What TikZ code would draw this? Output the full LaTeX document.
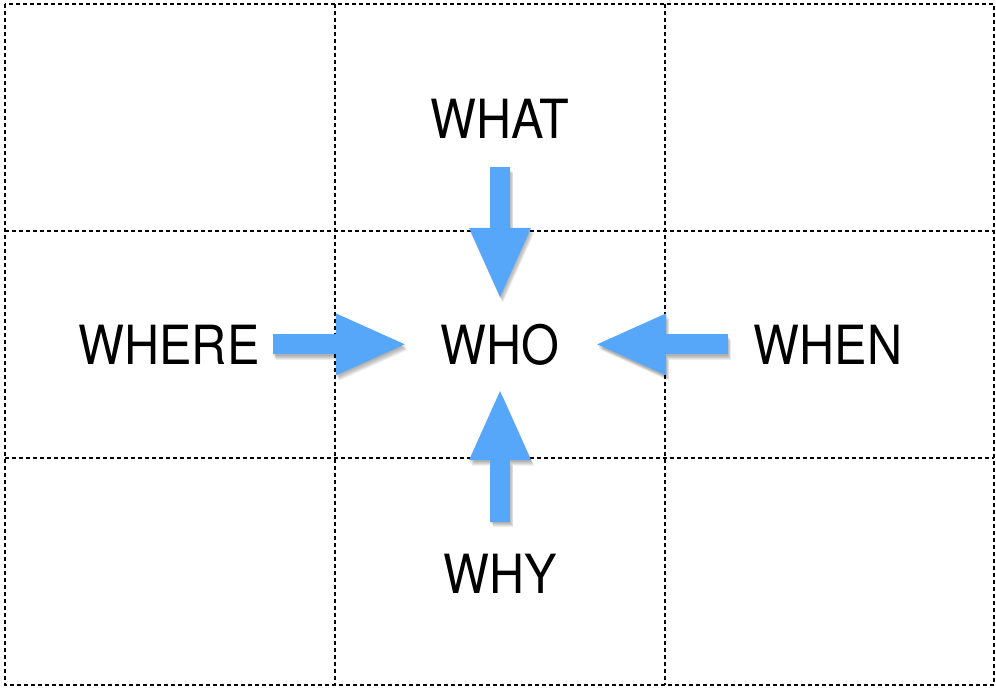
\documentclass[tikz,border=0pt]{standalone}
\usepackage{fontspec}
\setmainfont{TeX Gyre Heros}
\usetikzlibrary{arrows.meta,positioning}
\definecolor{arrowblue}{RGB}{86,167,250}
\definecolor{gridline}{RGB}{0,0,0}
\newcommand{\wordfont}{\fontsize{54}{60}\selectfont}
\newcommand{\capword}[1]{\scalebox{0.9}[1]{#1}}
\tikzset{
  grid/.style={draw=gridline, line width=1.2pt, dash pattern=on 4pt off 3pt},
  word/.style={font=\wordfont, inner sep=0pt, anchor=base},
  bigarrow/.style={draw=arrowblue, line width=20pt,
    -{Triangle[length=69pt, width=62pt, line width=0pt]}},
  arrowshadow/.style={bigarrow, draw=black, opacity=0.07}
}
\begin{document}
\begin{tikzpicture}[x=1pt, y=-1pt]
  \useasboundingbox (0,0) rectangle (996,688);
  % dashed grid
  \draw[grid] (5,4) rectangle (994,685);
  \draw[grid] (335,4) -- (335,685);
  \draw[grid] (665,4) -- (665,685);
  \draw[grid] (5,231) -- (994,231);
  \draw[grid] (5,458) -- (994,458);
  % words
  \node[word] (who) at (500,364) {\capword{WHO}};
  \node[word] (what) at (500,138) {\capword{WHAT}};
  \node[word] (where) at (169,364) {\capword{WHERE}};
  \node[word] (when) at (828,364) {\capword{WHEN}};
  \node[word] (why) at (500,593) {\capword{WHY}};
  % arrows into the centre
  \foreach \src/\sa/\sb in {what/29/26.6, where/13/35.6, when/26/37.6, why/31.6/26} {
    \foreach \dx/\dy in {0/-1.5, 1/-2.5, 2/-3.5, 2.5/-4.5, 3/-5.5}
      \draw[arrowshadow, transform canvas={shift={(\dx pt,\dy pt)}},
        shorten <=\sa pt, shorten >=\sb pt] (\src) -- (who);
    \draw[bigarrow, shorten <=\sa pt, shorten >=\sb pt] (\src) -- (who);
  }
\end{tikzpicture}
\end{document}
